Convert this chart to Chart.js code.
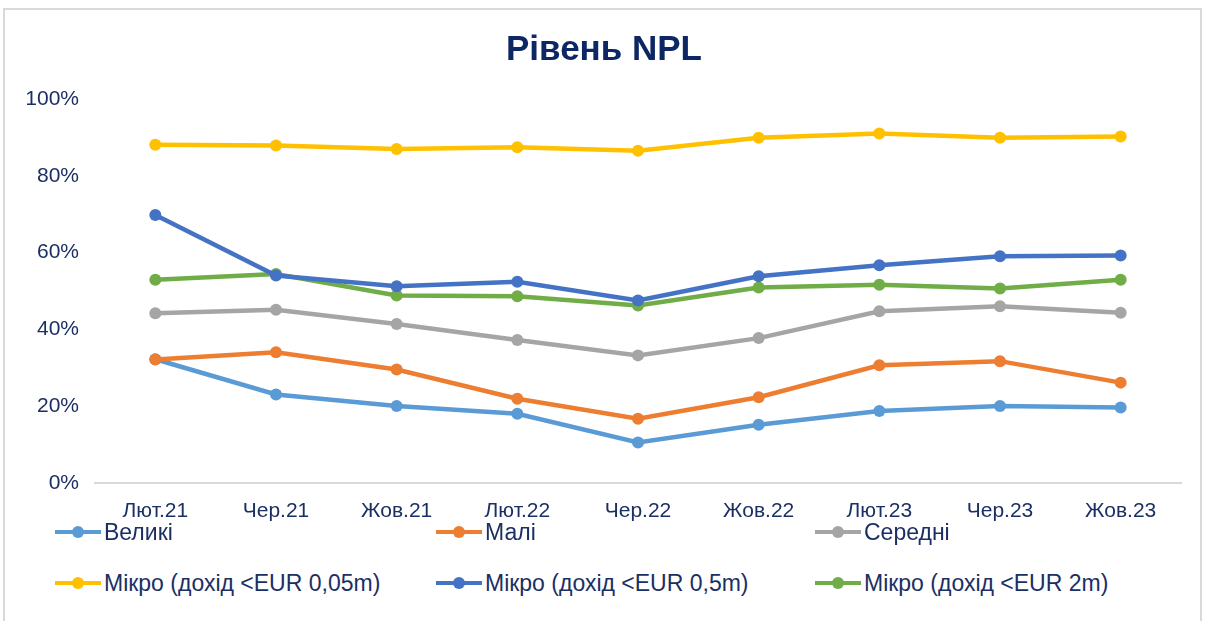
<!DOCTYPE html>
<html>
<head>
<meta charset="utf-8">
<script src="https://cdn.jsdelivr.net/npm/chart.js@4"></script>
<style>
  body { margin: 0; background: #fff; width: 1208px; height: 621px; overflow: hidden; position: relative; }
  #frame { position: absolute; left: 3px; top: 8px; width: 1199px; height: 620px; border: 2px solid #d9d9d9; box-sizing: border-box; }
  #wrap { position: absolute; left: 0; top: 0; width: 1208px; height: 544px; }
  .item { position: absolute; height: 26px; display: flex; align-items: center; font-family: "Liberation Sans Narrow", "Liberation Sans", Arial, sans-serif; font-size: 23px; color: #1b2f63; white-space: nowrap; }
  .mark { position: relative; width: 46px; height: 4px; margin-right: 3px; }
  .mark i { position: absolute; left: 17px; top: -4px; width: 12px; height: 12px; border-radius: 50%; }
</style>
</head>
<body>
<div id="frame"></div>
<div id="wrap"><canvas id="myChart"></canvas></div>
<div id="legend"></div>
<script>
const labels = ['Лют.21', 'Чер.21', 'Жов.21', 'Лют.22', 'Чер.22', 'Жов.22', 'Лют.23', 'Чер.23', 'Жов.23'];

const velyki = [32.2, 23.0, 20.0, 18.0, 10.5, 15.1, 18.7, 20.0, 19.6];
const mali = [32.1, 34.0, 29.5, 21.9, 16.7, 22.3, 30.6, 31.7, 26.1];
const seredni = [44.2, 45.1, 41.4, 37.2, 33.2, 37.7, 44.7, 46.0, 44.3];
const micro005 = [88.1, 87.9, 87.0, 87.4, 86.5, 89.9, 91.0, 89.9, 90.2];
const micro05 = [69.8, 54.0, 51.2, 52.4, 47.5, 53.8, 56.7, 59.0, 59.2];
const micro2 = [52.9, 54.4, 48.8, 48.6, 46.2, 50.9, 51.6, 50.6, 52.9];

const seriesNames = ['Великі', 'Малі', 'Середні', 'Мікро (дохід <EUR 0,05m)', 'Мікро (дохід <EUR 0,5m)', 'Мікро (дохід <EUR 2m)'];
const seriesData = [velyki, mali, seredni, micro005, micro05, micro2];
const colors = ['#5b9bd5', '#ed7d31', '#a5a5a5', '#ffc000', '#4472c4', '#70ad47'];

const navy = '#1b2f63';
const narrow = '"Liberation Sans Narrow", "Liberation Sans", Arial, sans-serif';

// draw order: later datasets on top
const order = [3, 4, 5, 2, 1, 0];
const datasets = seriesNames.map(function(name, i) {
    return {
        label: name,
        data: seriesData[i],
        borderColor: colors[i],
        backgroundColor: colors[i],
        borderWidth: 4.5,
        pointRadius: 6,
        pointBorderWidth: 0,
        pointBackgroundColor: colors[i],
        tension: 0,
        order: order.indexOf(i)
    };
});

const config = {
    type: 'line',
    data: { labels: labels, datasets: datasets },
    options: {
        responsive: true,
        maintainAspectRatio: false,
        animation: false,
        layout: { padding: { left: 27, right: 27, top: 0, bottom: 4 } },
        plugins: {
            legend: { display: false },
            tooltip: { enabled: false },
            title: {
                display: true,
                text: 'Рівень NPL',
                color: '#0d2764',
                font: { family: narrow, size: 35, weight: 'bold' },
                padding: { top: 29, bottom: 28 }
            }
        },
        scales: {
            x: {
                offset: true,
                grid: { display: false, drawTicks: false },
                border: { display: true, color: '#d9d9d9', width: 2 },
                ticks: { color: navy, padding: 16, font: { family: narrow, size: 21 }, maxRotation: 0 }
            },
            y: {
                min: 0,
                max: 100,
                afterFit: function(scale) { scale.width = 68; },
                grid: { display: false, drawTicks: false },
                border: { display: false },
                ticks: {
                    stepSize: 20,
                    color: navy,
                    padding: 16,
                    font: { family: 'Liberation Sans, Arial, sans-serif', size: 21 },
                    callback: function(v) { return v + '%'; }
                }
            }
        }
    }
};

var myChart = new Chart(document.getElementById('myChart'), config);

// legend: 3 columns, 2 rows
const legendCols = [55, 436, 815];
const legendRows = [532, 583];
const legend = document.getElementById('legend');
seriesNames.forEach(function(name, i) {
    const el = document.createElement('div');
    el.className = 'item';
    el.style.left = legendCols[i % 3] + 'px';
    el.style.top = (legendRows[Math.floor(i / 3)] - 13) + 'px';
    el.innerHTML = '<span class="mark" style="background:' + colors[i] + '"><i style="background:' + colors[i] + '"></i></span>';
    el.appendChild(document.createTextNode(name));
    legend.appendChild(el);
});
</script>
</body>
</html>
